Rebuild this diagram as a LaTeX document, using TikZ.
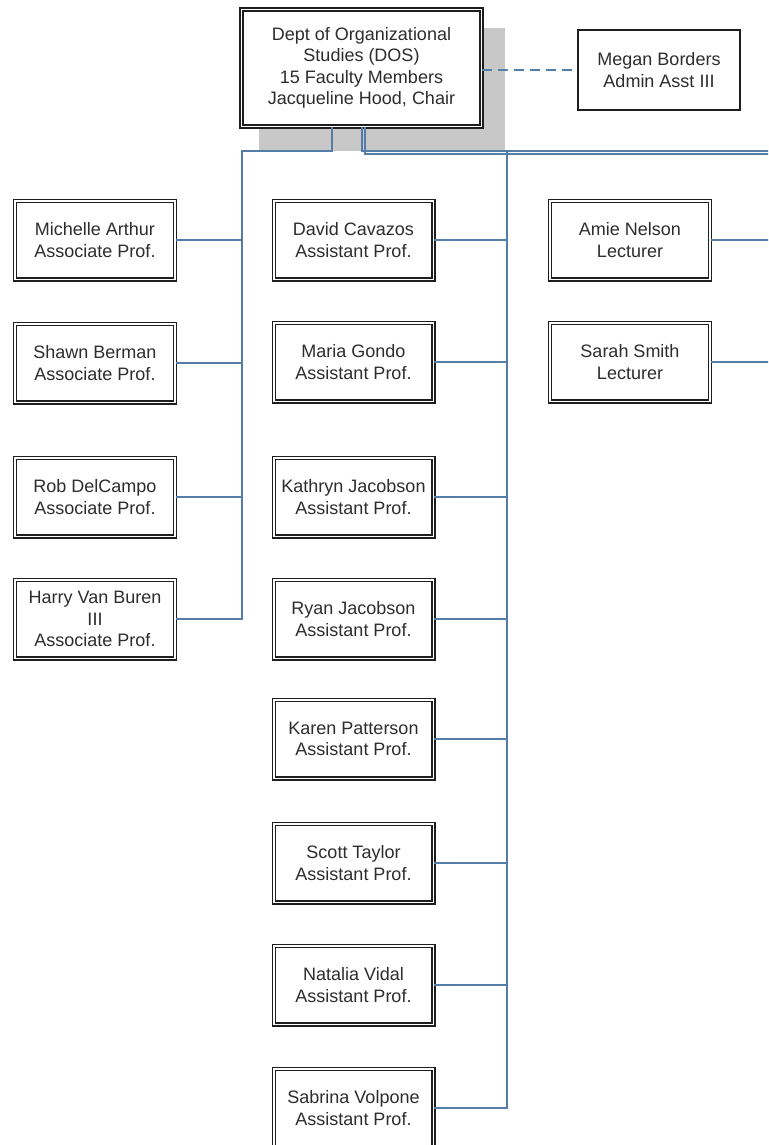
\documentclass[tikz,border=0pt]{standalone}
\usepackage{fontspec}
\setmainfont{Liberation Sans}
\definecolor{connblue}{RGB}{84,125,168}
\definecolor{boxline}{RGB}{30,30,30}
\definecolor{labelgray}{RGB}{45,45,45}
\definecolor{shadowgray}{RGB}{200,200,200}
\tikzset{
  labeltext/.style={align=center, text=labelgray, font=\fontsize{18}{21.5}\selectfont},
  person/.style={labeltext, draw=boxline, line width=1.2pt, double=white,
    double distance=1.8pt, fill=white, minimum width=159.8pt,
    minimum height=78.8pt, inner sep=0pt},
  chairbox/.style={person, line width=1.5pt, minimum width=240pt,
    minimum height=117pt},
  adminbox/.style={labeltext, draw=boxline, line width=1.6pt, fill=white,
    minimum width=162.4pt, minimum height=80.4pt, inner sep=0pt},
  link/.style={draw=connblue, line width=1.2pt},
  dashlink/.style={link, dash pattern=on 10pt off 6pt},
}
\begin{document}
\begin{tikzpicture}[x=1pt,y=-1pt]
\useasboundingbox (0,0) rectangle (768,1145);
\clip (0,0) rectangle (768,1145);
\fill[white] (0,0) rectangle (768,1145);

% shadow behind the department box
\fill[shadowgray] (259,28) rectangle (505,151);

% department head and admin
\node[chairbox] (dos) at (361.5,68)
  {Dept of Organizational\\Studies (DOS)\\15 Faculty Members\\Jacqueline Hood, Chair};
\node[adminbox] (admin) at (659,70) {Megan Borders\\Admin Asst III};

% associate professors
\node[person] (michelle) at (95,240) {Michelle Arthur\\Associate Prof.};
\node[person] (shawn)    at (95,363) {Shawn Berman\\Associate Prof.};
\node[person] (rob)      at (95,497) {Rob DelCampo\\Associate Prof.};
\node[person] (harry)    at (95,619) {Harry Van Buren\\III\\Associate Prof.};

% assistant professors
\node[person] (david)    at (353.5,240)  {David Cavazos\\Assistant Prof.};
\node[person] (maria)    at (353.5,362)  {Maria Gondo\\Assistant Prof.};
\node[person] (kathryn)  at (353.5,497)  {Kathryn Jacobson\\Assistant Prof.};
\node[person] (ryan)     at (353.5,619)  {Ryan Jacobson\\Assistant Prof.};
\node[person] (karen)    at (353.5,739)  {Karen Patterson\\Assistant Prof.};
\node[person] (scott)    at (353.5,863)  {Scott Taylor\\Assistant Prof.};
\node[person] (natalia)  at (353.5,985)  {Natalia Vidal\\Assistant Prof.};
\node[person] (sabrina)  at (353.5,1108) {Sabrina Volpone\\Assistant Prof.};

% lecturers
\node[person] (amie)     at (630,240) {Amie Nelson\\Lecturer};
\node[person] (sarah)    at (630,362) {Sarah Smith\\Lecturer};

% bus corners
\coordinate (busL) at (242,151);
\coordinate (busM) at (507,151);
\coordinate (busR) at (770,154);

% chair to admin
\draw[dashlink] (dos.east |- admin.west) -- (admin.west);

% left branch
\draw[link] ([xshift=-29.5pt]dos.south) |- (busL) -- (busL |- harry.east) -- (harry.east);
\foreach \n in {michelle,shawn,rob}
  \draw[link] (\n.east) -- (\n.east -| busL);

% middle branch
\draw[link] ([xshift=0.5pt]dos.south) |- (busM) -- (busM |- sabrina.east) -- (sabrina.east);
\foreach \n in {david,maria,kathryn,ryan,karen,scott,natalia}
  \draw[link] (\n.east) -- (\n.east -| busM);

% right branch (trunk runs on past the middle bus)
\draw[link] (busM) -- (busM -| busR);
\draw[link] ([xshift=3.5pt]dos.south) |- (busR) -- (busR |- sarah.east) -- (sarah.east);
\draw[link] (amie.east) -- (amie.east -| busR);
\end{tikzpicture}
\end{document}
